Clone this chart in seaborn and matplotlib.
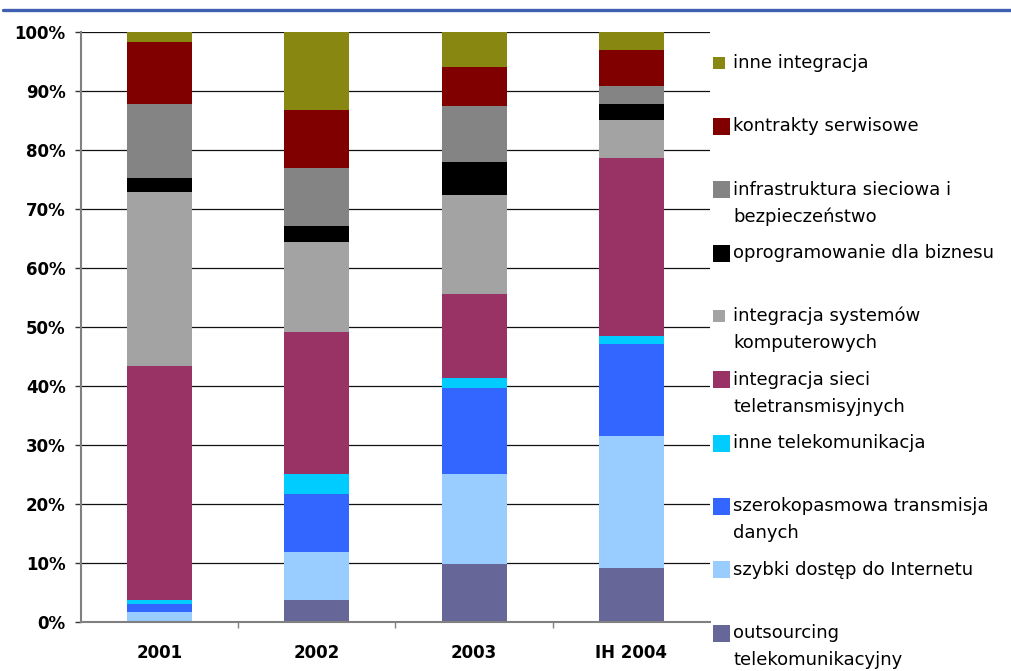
import numpy as np
import matplotlib
matplotlib.use("Agg")
import matplotlib.pyplot as plt
import seaborn as sns
from matplotlib.patches import Rectangle
from matplotlib.lines import Line2D

# Revenue structure by service category, share in % (stacked bottom -> top)
years = ["2001", "2002", "2003", "IH 2004"]
outsourcing = [0.0, 3.7, 9.8, 9.15]
szybki_dostep = [1.7, 8.2, 15.3, 22.35]
szerokopasmowa = [1.35, 9.8, 14.6, 15.6]
inne_telekom = [0.65, 3.4, 1.65, 1.4]
integracja_sieci = [39.7, 24.05, 14.25, 30.1]
integracja_systemow = [29.5, 15.25, 16.8, 6.5]
oprogramowanie = [2.35, 2.7, 5.6, 2.7]
infrastruktura = [12.55, 9.85, 9.5, 3.05]
kontrakty = [10.5, 9.85, 6.6, 6.1]
inne_integracja = [1.7, 13.2, 5.9, 3.05]

labels = [
    "outsourcing\ntelekomunikacyjny",
    "szybki dostęp do Internetu",
    "szerokopasmowa transmisja\ndanych",
    "inne telekomunikacja",
    "integracja sieci\nteletransmisyjnych",
    "integracja systemów\nkomputerowych",
    "oprogramowanie dla biznesu",
    "infrastruktura sieciowa i\nbezpieczeństwo",
    "kontrakty serwisowe",
    "inne integracja",
]
colors = ["#666699", "#99CCFF", "#3366FF", "#00CCFF", "#993366",
          "#A3A3A3", "#000000", "#848484", "#800000", "#878712"]

series = np.array([outsourcing, szybki_dostep, szerokopasmowa, inne_telekom,
                   integracja_sieci, integracja_systemow, oprogramowanie,
                   infrastruktura, kontrakty, inne_integracja])
cum = np.cumsum(series, axis=0)

sns.set_theme(style="white")
plt.rcParams["font.family"] = ["DejaVu Sans"]

W, H = 1012, 671
fig = plt.figure(figsize=(W / 100, H / 100), dpi=100)
ax = fig.add_axes([81 / W, 49 / H, 629 / W, 590 / H])

# stacked bars: draw cumulative totals from the top layer down
for i in reversed(range(len(labels))):
    sns.barplot(x=years, y=cum[i], color=colors[i], saturation=1,
                width=0.413, errorbar=None, linewidth=0, ax=ax, zorder=2)

ax.set_xlim(-0.5, 3.5)
ax.set_ylim(0, 100)
ax.set_yticks(np.arange(0, 101, 10))
ax.set_yticklabels([f"{v}%" for v in range(0, 101, 10)])
ax.yaxis.grid(True, color="#111111", linewidth=0.9)
ax.xaxis.grid(False)
ax.set_axisbelow(True)
ax.set_xlabel("")
ax.set_ylabel("")

for s in ["top", "right"]:
    ax.spines[s].set_visible(False)
for s in ["left", "bottom"]:
    ax.spines[s].set_color("#808080")
    ax.spines[s].set_linewidth(1.5)
    ax.spines[s].set_zorder(3)

ax.tick_params(axis="y", which="major", left=True, length=4, width=1,
               color="#333333", pad=7, labelsize=12)
ax.tick_params(axis="x", which="major", bottom=False, pad=10, labelsize=12)
ax.set_xticks([0.5, 1.5, 2.5], minor=True)
ax.tick_params(axis="x", which="minor", bottom=True, length=4.5, width=1,
               color="#808080")
for t in ax.get_xticklabels() + ax.get_yticklabels():
    t.set_fontweight("bold")
    t.set_color("black")

# header rule
fig.add_artist(Line2D([3 / W, 1.0], [1 - 10 / H, 1 - 10 / H],
                      color="#3F5FB0", linewidth=2.4))

# legend, top entry first
centers = np.linspace(63, 633, 10)
for k, idx in enumerate(reversed(range(len(labels)))):
    yc = centers[k]
    small = idx in (9, 5)
    sz = 12 if small else 17
    fig.add_artist(Rectangle((713 / W, 1 - (yc + sz / 2) / H), sz / W, sz / H,
                             facecolor=colors[idx], edgecolor="none"))
    for j, line in enumerate(labels[idx].split("\n")):
        fig.text(733 / W, 1 - (yc + 5 + 27 * j) / H, line, fontsize=13,
                 va="baseline", ha="left", color="black")

fig.savefig("out.png", dpi=100)
